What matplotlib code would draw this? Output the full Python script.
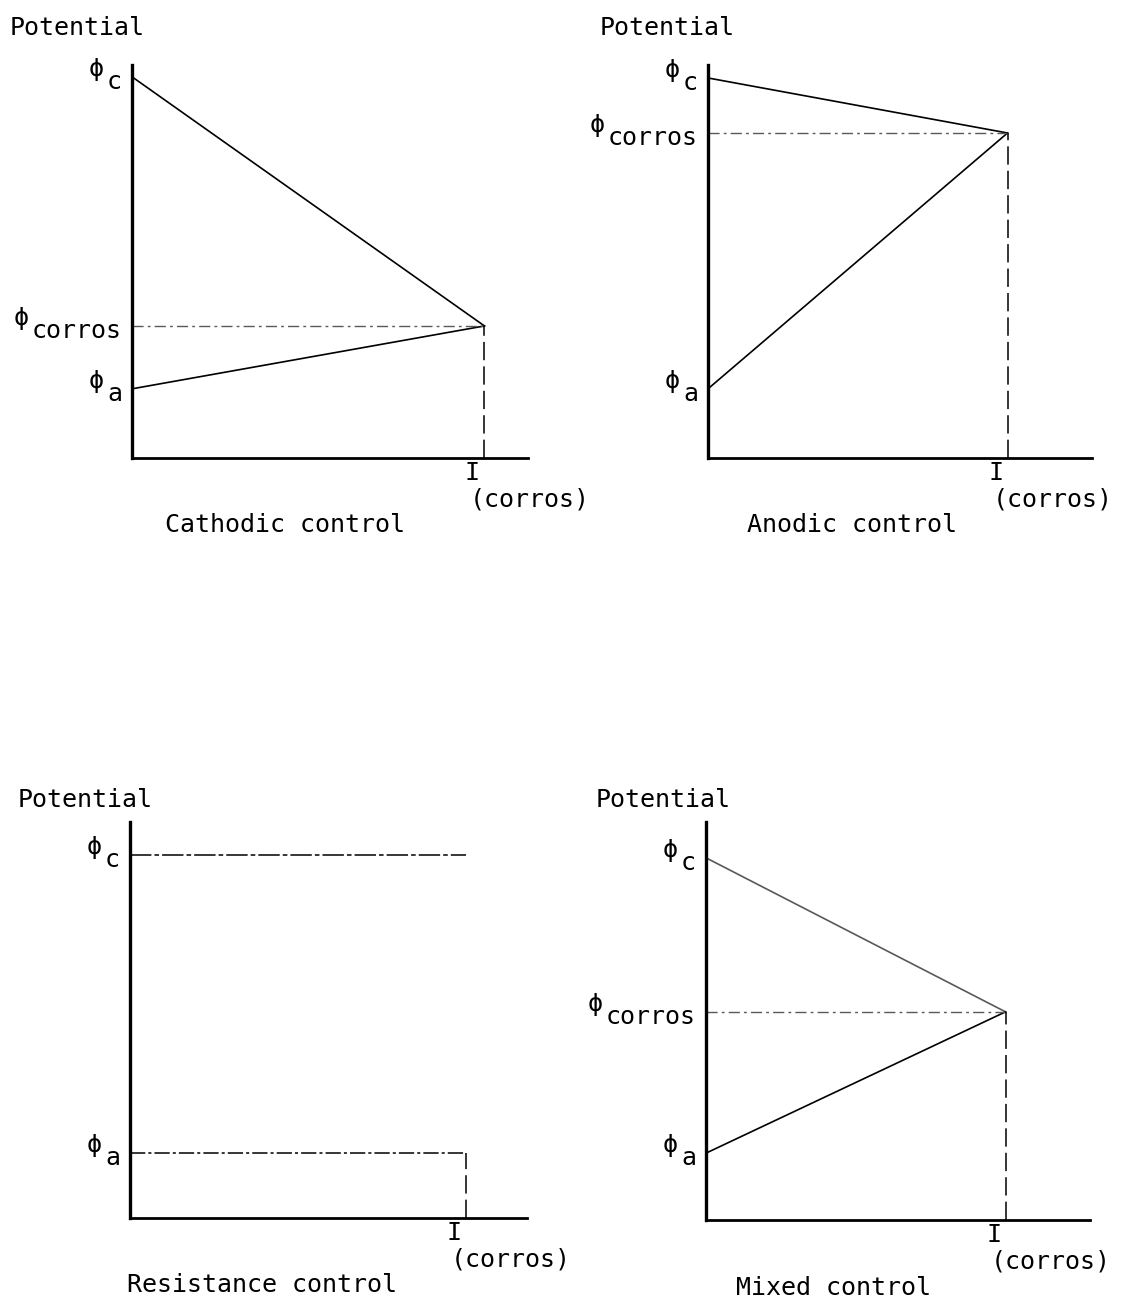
import matplotlib
matplotlib.use("Agg")
from matplotlib import pyplot as plt

plt.rcParams['font.family'] = ['DejaVu Sans Mono']

# values read in axis-fraction units (y: potential, x: current)
titles = ["Cathodic control", "Anodic control", "Resistance control", "Mixed control"]
phi_c = [0.970, 0.967, 0.917, 0.910]
phi_corr = [0.336, 0.827, None, 0.523]
phi_a = [0.176, 0.176, 0.164, 0.168]
i_corr = [0.890, 0.780, 0.846, 0.780]

W, H = 1127, 1304
DPI = 100
# axes boxes in pixels: left, bottom (from top), width, height
boxes = [(132, 458, 396, 393), (708, 458, 384, 393),
         (130, 1218, 397, 396), (706, 1220, 384, 398)]
# "Potential" and caption anchors in pixels
pot_xy = [(10, 28), (600, 28), (18, 800), (596, 800)]
cap_xy = [(285, 525), (852, 525), (262, 1285), (834, 1288)]

FS = 18
CHW = FS * DPI / 72 * 0.602  # width of one mono character in px

fig = plt.figure(figsize=(W / DPI, H / DPI), dpi=DPI)


def phi_label(ax, y, sub):
    ax.annotate(sub, xy=(0, y), xycoords=('axes fraction', 'data'),
                xytext=(-10, -5), textcoords='offset pixels',
                ha='right', va='center', fontsize=FS)
    ax.annotate('\u03d5', xy=(0, y), xycoords=('axes fraction', 'data'),
                xytext=(-10 - len(sub) * CHW - 3, 8), textcoords='offset pixels',
                ha='right', va='center', fontsize=FS)


for k in range(4):
    l, b, w, h = boxes[k]
    ax = fig.add_axes([l / W, (H - b) / H, w / W, h / H])
    ax.set_xlim(0, 1)
    ax.set_ylim(0, 1)
    for s in ['top', 'right']:
        ax.spines[s].set_visible(False)
    ax.spines['left'].set_linewidth(2.4)
    ax.spines['bottom'].set_linewidth(2.0)
    ax.set_xticks([])
    ax.set_yticks([])
    ax.patch.set_alpha(0)

    ic = i_corr[k]
    if phi_corr[k] is None:
        # resistance control: both curves flat, IR drop closes the gap
        ax.plot([0, ic], [phi_c[k], phi_c[k]], color='k', lw=1.1,
                linestyle=(0, (14, 2, 3, 2)))
        ax.plot([0, ic], [phi_a[k], phi_a[k]], color='k', lw=1.1,
                linestyle=(0, (10, 2, 2, 2)))
        ax.plot([ic, ic], [0, phi_a[k]], color='k', lw=1.1,
                linestyle=(0, (12, 4)))
        phi_label(ax, phi_c[k], 'c')
        phi_label(ax, phi_a[k], 'a')
    else:
        pc = phi_corr[k]
        cath_col = '0.35' if k == 3 else 'k'
        ax.plot([0, ic], [phi_c[k], pc], color=cath_col, lw=1.2)
        ax.plot([0, ic], [phi_a[k], pc], color='k', lw=1.2)
        ax.plot([0, ic], [pc, pc], color='0.35', lw=1.0,
                linestyle=(0, (8, 3, 2, 3)))
        ax.plot([ic, ic], [0, pc], color='k', lw=1.1,
                linestyle=(0, (12, 4)))
        phi_label(ax, phi_c[k], 'c')
        phi_label(ax, pc, 'corros')
        phi_label(ax, phi_a[k], 'a')

    ax.annotate('I', xy=(ic, 0), xycoords='data', xytext=(-12, -3),
                textcoords='offset pixels', ha='center', va='top', fontsize=FS)
    ax.annotate('(corros)', xy=(ic, 0), xycoords='data', xytext=(45, -30),
                textcoords='offset pixels', ha='center', va='top', fontsize=FS)

    px, py = pot_xy[k]
    fig.text(px / W, 1 - py / H, 'Potential', ha='left', va='center', fontsize=FS)
    cx, cy = cap_xy[k]
    fig.text(cx / W, 1 - cy / H, titles[k], ha='center', va='center', fontsize=FS)

fig.savefig('out.png', dpi=DPI, facecolor='white')
